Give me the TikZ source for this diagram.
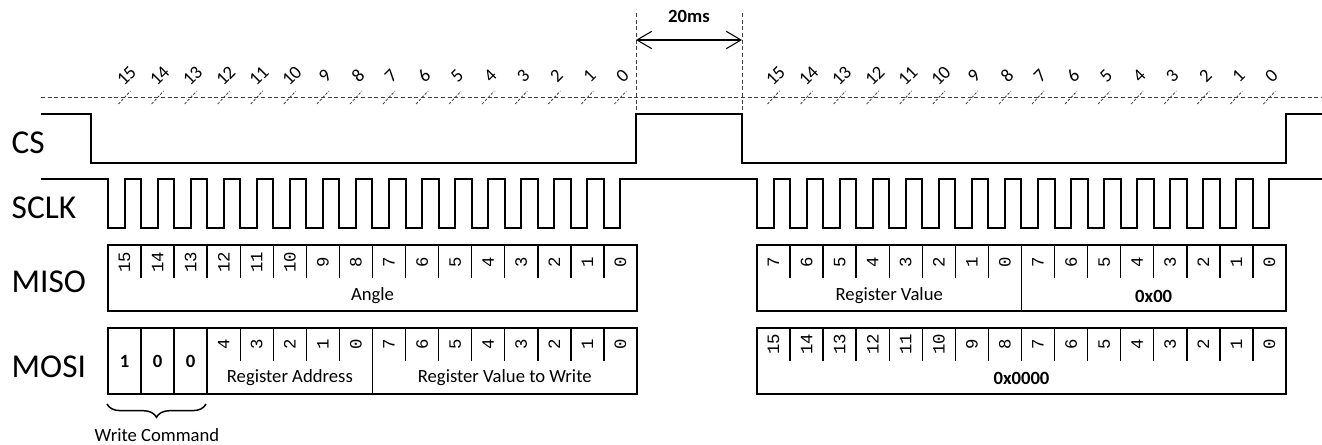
\documentclass[tikz,border=0pt]{standalone}
\usepackage{fontspec}
\setmainfont{Carlito}
\newfontfamily\bitfont{Liberation Mono}
\usetikzlibrary{arrows.meta,decorations.pathreplacing}
\begin{document}
\begin{tikzpicture}[x=0.75pt,y=-0.75pt,
    wave/.style={line width=1.5pt,line join=miter},
    frame/.style={line width=1.5pt},
    cellsep/.style={line width=1.1pt},
    guide/.style={dash pattern=on 3pt off 2pt,line width=0.6pt,black!75},
    sig/.style={anchor=west,font=\fontsize{25}{29}\selectfont},
    bitnum/.style={rotate=90,font=\bitfont\fontsize{13}{14}\selectfont},
    ticknum/.style={rotate=45,font=\fontsize{14}{15}\selectfont},
    fieldtxt/.style={font=\fontsize{14}{16}\selectfont},
    fieldbold/.style={font=\bfseries\fontsize{14}{16}\selectfont}]
  \useasboundingbox (0,0) rectangle (1322,445);
  \def\cw{33.06}
  % guides and 20ms gap
  \draw[guide] (41,97) -- (1322,97);
  \draw[guide] (636,13) -- (636,114);
  \draw[guide] (742,13) -- (742,114);
  \draw[{Straight Barb[length=11pt,width=13pt]}-{Straight Barb[length=11pt,width=13pt]},line width=0.8pt] (636,40) -- (742,40);
  \node[fieldbold] (gap) at (689,16) {20ms};
  % bit numbers over the clock edges
  \foreach \xs in {108,757} {
    \foreach \k in {0,...,15} {
      \pgfmathtruncatemacro\bit{15-\k}
      \draw[guide,dash pattern=on 2pt off 1.2pt] ({\xs+(\k+0.5)*\cw-6},104) -- ({\xs+(\k+0.5)*\cw+6},91);
      \node[ticknum] at ({\xs+(\k+0.5)*\cw+2},76) {\bit};
    }
  }
  % signal names
  \node[sig] (cs) at (7,143) {CS};
  \node[sig] (sclk) at (7,208) {SCLK};
  \node[sig] (miso) at (7,282) {MISO};
  \node[sig] (mosi) at (7,367) {MOSI};
  % CS
  \draw[wave] (41,114) -- (91,114) -- (91,163) -- (636,163) -- (636,114) -- (742,114)
    -- (742,163) -- (1286,163) -- (1286,114) -- (1322,114);
  % SCLK
  \draw[wave] (41,179)
    \foreach \k in {0,...,15} { -- ({108+\k*\cw},179) -- ({108+\k*\cw},228)
      -- ({108+(\k+0.5)*\cw},228) -- ({108+(\k+0.5)*\cw},179) }
    \foreach \k in {0,...,15} { -- ({757+\k*\cw},179) -- ({757+\k*\cw},228)
      -- ({757+(\k+0.5)*\cw},228) -- ({757+(\k+0.5)*\cw},179) }
    -- (1322,179);
  % MISO, first frame
  \draw[frame] (108,245) rectangle (637,311);
  \foreach \k [evaluate=\k as \n using int(15-\k)] in {0,...,15} {
    \node[bitnum] at ({108+(\k+0.5)*\cw},262) {\n};
    \ifnum\k>0 \draw[cellsep] ({108+\k*\cw},245) -- ++(0,33); \fi
  }
  \node[fieldtxt] (angle) at ({108+8*\cw},296) {Angle};
  % MOSI, first frame
  \draw[frame] (108,328) rectangle (637,394);
  \foreach \k in {1,2,3,8} \draw[cellsep] ({108+\k*\cw},328) -- ++(0,66);
  \foreach \k in {4,...,7,9,10,...,15} \draw[cellsep] ({108+\k*\cw},328) -- ++(0,33);
  \foreach \k/\v in {0/1,1/0,2/0} \node[fieldbold] at ({108+(\k+0.5)*\cw},361) {\v};
  \foreach \k [evaluate=\k as \n using int(7-\k)] in {3,...,7} \node[bitnum] at ({108+(\k+0.5)*\cw},344) {\n};
  \foreach \k [evaluate=\k as \n using int(15-\k)] in {8,...,15} \node[bitnum] at ({108+(\k+0.5)*\cw},344) {\n};
  \node[fieldtxt] (regaddr) at ({108+5.5*\cw},378) {Register Address};
  \node[fieldtxt] (regwrite) at ({108+12*\cw},378) {Register Value to Write};
  \draw[line width=1.1pt,decorate,decoration={brace,mirror,amplitude=10pt}] (107,404) -- (206,404);
  \node[fieldtxt] (wcmd) at (157,435) {Write Command};
  % MISO, second frame
  \draw[frame] (757,245) rectangle (1286,311);
  \foreach \k [evaluate=\k as \n using {int(mod(15-\k,8))}] in {0,...,15} {
    \node[bitnum] at ({757+(\k+0.5)*\cw},262) {\n};
    \ifnum\k>0 \draw[cellsep] ({757+\k*\cw},245) -- ++(0,33); \fi
  }
  \draw[cellsep] ({757+8*\cw},278) -- ({757+8*\cw},311);
  \node[fieldtxt] (regval) at ({757+4*\cw},296) {Register Value};
  \node[fieldbold] (zero8) at ({757+12*\cw},296) {0x00};
  % MOSI, second frame
  \draw[frame] (757,328) rectangle (1286,394);
  \foreach \k [evaluate=\k as \n using int(15-\k)] in {0,...,15} {
    \node[bitnum] at ({757+(\k+0.5)*\cw},344) {\n};
    \ifnum\k>0 \draw[cellsep] ({757+\k*\cw},328) -- ++(0,33); \fi
  }
  \node[fieldbold] (zero16) at ({757+8*\cw},378) {0x0000};
\end{tikzpicture}
\end{document}
